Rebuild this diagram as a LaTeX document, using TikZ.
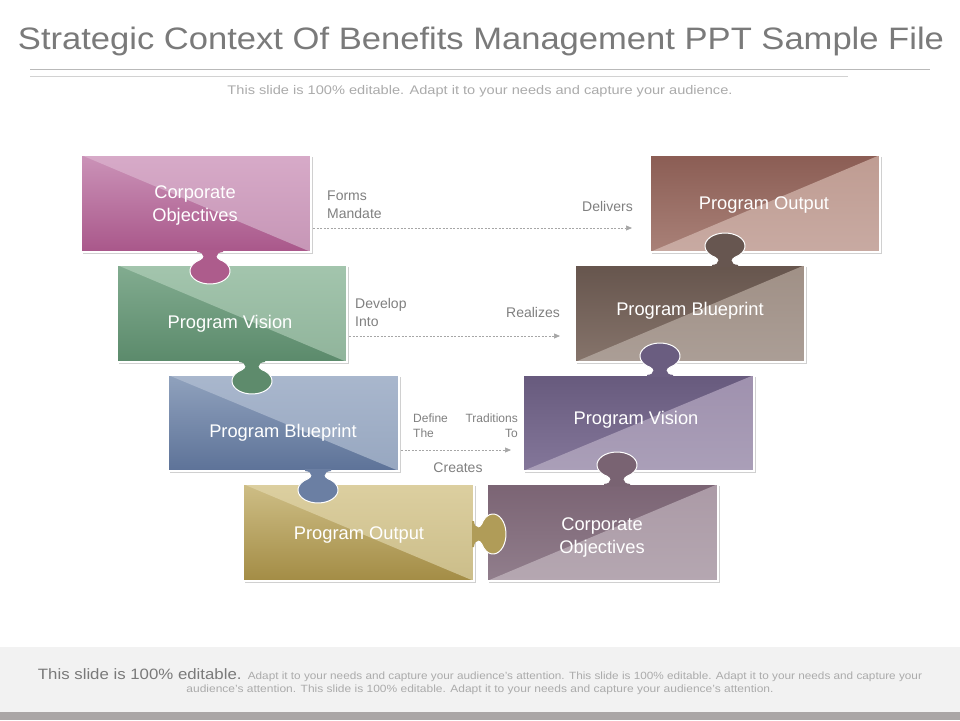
\documentclass[tikz,border=0pt]{standalone}
\usepackage{graphicx}
\usepackage{fontspec}
\setmainfont{Liberation Sans}
\usetikzlibrary{arrows.meta}
\definecolor{titlegray}{HTML}{7A7A7A}
\definecolor{lblgray}{HTML}{808080}
\definecolor{subgray}{HTML}{ABABAB}
\definecolor{footbg}{HTML}{F2F2F2}
\definecolor{footbar}{HTML}{AAA6A6}
% box colours
\definecolor{pkA}{HTML}{CB93B8}\definecolor{pkB}{HTML}{A9578A}\definecolor{pkC}{HTML}{D7AAC8}\definecolor{pkD}{HTML}{C696B6}
\definecolor{gnA}{HTML}{82AC90}\definecolor{gnB}{HTML}{5B8A6B}\definecolor{gnC}{HTML}{A3C5AD}\definecolor{gnD}{HTML}{90B49B}
\definecolor{blA}{HTML}{90A2BD}\definecolor{blB}{HTML}{5D7298}\definecolor{blC}{HTML}{A9B7CD}\definecolor{blD}{HTML}{97A7C0}
\definecolor{gdA}{HTML}{CEBE86}\definecolor{gdB}{HTML}{A38C45}\definecolor{gdC}{HTML}{DCCFA0}\definecolor{gdD}{HTML}{CBBD89}
\definecolor{brA}{HTML}{8B5D54}\definecolor{brB}{HTML}{A98178}\definecolor{brC}{HTML}{BF9C92}\definecolor{brD}{HTML}{C8AAA2}
\definecolor{dbA}{HTML}{66554D}\definecolor{dbB}{HTML}{86746B}\definecolor{dbC}{HTML}{A09086}\definecolor{dbD}{HTML}{AB9E96}
\definecolor{puA}{HTML}{675A7D}\definecolor{puB}{HTML}{84779A}\definecolor{puC}{HTML}{9F91AE}\definecolor{puD}{HTML}{AA9FB8}
\definecolor{mvA}{HTML}{7B6474}\definecolor{mvB}{HTML}{917E8C}\definecolor{mvC}{HTML}{AB9AA6}\definecolor{mvD}{HTML}{B5A7B1}
% knob colours
\definecolor{kpk}{HTML}{AD5C8C}\definecolor{kgn}{HTML}{5E8B6C}\definecolor{kbl}{HTML}{6B7FA3}\definecolor{kgd}{HTML}{B09C58}
\definecolor{kdb}{HTML}{675650}\definecolor{kpu}{HTML}{6A5D80}\definecolor{kmv}{HTML}{796372}

% #1 L/R, #2 x1, #3 y1, #4 x2, #5 y2, #6..#9 colours
\newcommand\pzbox[9]{%
  \fill[black!30,opacity=0.6] (#2+1.5,-#3-1.5) rectangle (#4+1.5,-#5-1.5);
  \shade[top color=#6,bottom color=#7] (#2,-#3) rectangle (#4,-#5);
  \if L#1
    \shade[top color=#8,bottom color=#9] (#2,-#3) -- (#4,-#3) -- (#4,-#5) -- cycle;
  \else
    \shade[top color=#8,bottom color=#9] (#2,-#5) -- (#4,-#3) -- (#4,-#5) -- cycle;
  \fi
  \draw[white,line width=1.2pt] (#2,-#3) rectangle (#4,-#5);
}
% #1 position, #2 rotation, #3 colour
\newcommand\pzknob[3]{%
  \begin{scope}[shift={#1},rotate=#2]
    \fill[#3] (-13,-2) -- (-13,0) .. controls (-8,0.5) and (-7,2) .. (-7,4)
      .. controls (-7,5.5) and (-8.5,6.8) .. (-10,7.74)
      arc[start angle=240,end angle=-60,x radius=20,y radius=13]
      .. controls (8.5,6.8) and (7,5.5) .. (7,4)
      .. controls (7,2) and (8,0.5) .. (13,0) -- (13,-2) -- cycle;
    \draw[white,line width=1pt] (-7,4)
      .. controls (-7,5.5) and (-8.5,6.8) .. (-10,7.74)
      arc[start angle=240,end angle=-60,x radius=20,y radius=13]
      .. controls (8.5,6.8) and (7,5.5) .. (7,4);
  \end{scope}
}
\tikzset{
  boxtext/.style={text=white,font=\fontsize{18.3}{23}\selectfont,align=center,inner sep=0pt},
  lbl/.style={text=lblgray,font=\fontsize{14}{18}\selectfont,inner sep=0pt},
  lblsmall/.style={text=lblgray,font=\fontsize{12}{15}\selectfont,inner sep=0pt},
  flow/.style={draw=gray!70,line width=0.7pt,dash pattern=on 2pt off 1.5pt,-{Triangle[length=6pt,width=5pt]}}
}
\begin{document}
\begin{tikzpicture}[x=1pt,y=1pt]
\useasboundingbox (0,0) rectangle (960,-720);
\fill[white] (0,0) rectangle (960,-720);

% title
\node (title) at (481,-41) {\color{titlegray}\resizebox{926pt}{\height}{\fontsize{31}{31}\selectfont Strategic Context Of Benefits Management PPT Sample File}};
\draw[gray!55,line width=0.9pt] (30,-69) -- (930,-69);
\draw[gray!35,line width=0.8pt] (30,-76) -- (848,-76);
\node (sub) at (480,-91) {\color{subgray}\resizebox{505pt}{\height}{\fontsize{12.5}{12.5}\selectfont This slide is 100\% editable. Adapt it to your needs and capture your audience.}};

% footer
\fill[footbg] (0,-647) rectangle (960,-712);
\fill[footbar] (0,-712) rectangle (960,-720);
\node (foot1) at (480,-675) {\resizebox{884pt}{\height}{\color{titlegray}\fontsize{15}{15}\selectfont This slide is 100\% editable. \color{subgray}\fontsize{10.5}{10.5}\selectfont Adapt it to your needs and capture your audience’s attention. This slide is 100\% editable. Adapt it to your needs and capture your}};
\node (foot2) at (480,-690) {\resizebox{587pt}{\height}{\color{subgray}\fontsize{10.5}{10.5}\selectfont audience’s attention. This slide is 100\% editable. Adapt it to your needs and capture your audience’s attention.}};

% left column
\pzbox{L}{81}{155}{311}{252}{pkA}{pkB}{pkC}{pkD}
\pzbox{L}{117}{265}{347}{362}{gnA}{gnB}{gnC}{gnD}
\pzknob{(210,-252)}{180}{kpk}
\pzbox{L}{168}{375}{399}{471}{blA}{blB}{blC}{blD}
\pzknob{(252,-362)}{180}{kgn}
\pzbox{L}{243}{484}{474}{581}{gdA}{gdB}{gdC}{gdD}
\pzknob{(318,-471)}{180}{kbl}

% right column
\pzbox{R}{650}{155}{880}{252}{brA}{brB}{brC}{brD}
\pzbox{R}{575}{265}{805}{362}{dbA}{dbB}{dbC}{dbD}
\pzknob{(725,-265)}{0}{kdb}
\pzbox{R}{523}{375}{754}{471}{puA}{puB}{puC}{puD}
\pzknob{(660,-375)}{0}{kpu}
\pzbox{R}{487}{484}{718}{581}{mvA}{mvB}{mvC}{mvD}
\pzknob{(617,-484)}{0}{kmv}
\pzknob{(474,-534)}{-90}{kgd}

% box texts
\node[boxtext] (b1) at (195,-206) {Corporate\\Objectives};
\node[boxtext] (b2) at (230,-323.5) {Program Vision};
\node[boxtext] (b3) at (283,-432.5) {Program Blueprint};
\node[boxtext] (b4) at (359,-535.5) {Program Output};
\node[boxtext] (b5) at (764,-205.5) {Program Output};
\node[boxtext] (b6) at (690,-310.5) {Program Blueprint};
\node[boxtext] (b7) at (636,-419.5) {Program Vision};
\node[boxtext] (b8) at (602,-538) {Corporate\\Objectives};

% connectors
\coordinate (a1s) at (313,-228); \coordinate (a1e) at (632,-228);
\coordinate (a2s) at (349,-336); \coordinate (a2e) at (560,-336);
\coordinate (a3s) at (401,-450); \coordinate (a3e) at (511,-450);
\draw[flow] (a1s) -- (a1e);
\draw[flow] (a2s) -- (a2e);
\draw[flow] (a3s) -- (a3e);

% labels
\node[lbl,align=left,anchor=west] (l1) at (327,-205) {Forms\\Mandate};
\node[lbl,anchor=east] (l2) at (633,-206) {Delivers};
\node[lbl,align=left,anchor=west] (l3) at (355,-312) {Develop\\Into};
\node[lbl] (l4) at (533,-312) {Realizes};
\node[lblsmall,align=left,anchor=west] (l5) at (413,-426) {Define\\The};
\node[lblsmall,align=right,anchor=east] (l6) at (518,-426) {Traditions\\To};
\node[lbl] (l7) at (458,-468) {Creates};
\end{tikzpicture}
\end{document}
